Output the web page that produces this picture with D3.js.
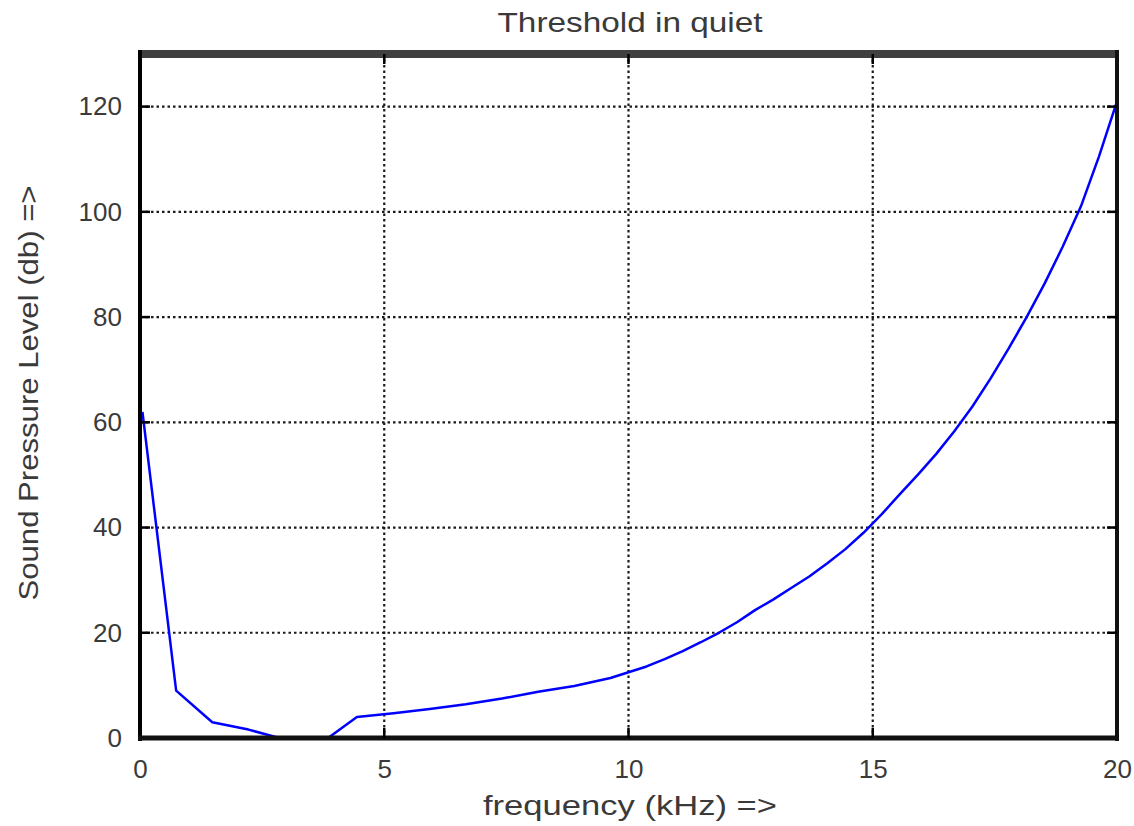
<!DOCTYPE html>
<html>
<head>
<meta charset="utf-8">
<script src="https://cdn.jsdelivr.net/npm/d3@7"></script>
<style>
  html, body { margin: 0; padding: 0; background: #fff; }
  svg { display: block; }
  text { font-family: "Liberation Sans", Arial, sans-serif; fill: #3a3a3a; }
</style>
</head>
<body>
<svg id="chart" width="1134" height="826"></svg>
<script>
// ---- data ----
const freqKHz = [0.05, 0.74, 1.48, 2.22, 2.85, 3.85, 4.44, 5.19, 5.93, 6.67, 7.41, 8.15, 8.89, 9.63,
                 10.37, 10.74, 11.11, 11.48, 11.85, 12.22, 12.59, 12.96, 13.33, 13.70, 14.07, 14.44, 14.81,
                 15.19, 15.56, 15.93, 16.30, 16.67, 17.04, 17.41, 17.78, 18.15, 18.52, 18.89, 19.26, 19.63, 20.0];
const splDb   = [62, 9, 3.0, 1.6, 0, 0, 4.0, 4.7, 5.5, 6.4, 7.5, 8.8, 9.9, 11.4,
                 13.6, 15.0, 16.5, 18.2, 20.0, 22.0, 24.3, 26.3, 28.5, 30.7, 33.2, 35.9, 39.0,
                 42.6, 46.4, 50.1, 54.0, 58.3, 63.0, 68.3, 74.0, 80.0, 86.4, 93.4, 101.0, 110.5, 121];
const xTicks = [0, 5, 10, 15, 20];
const yTicks = [0, 20, 40, 60, 80, 100, 120];
const titleText = "Threshold in quiet";
const xLabelText = "frequency (kHz) =>";
const yLabelText = "Sound Pressure Level (db) =>";

// ---- layout ----
const L = 140, R = 1117, T = 54, B = 738;
const svg = d3.select("#chart");

const x = d3.scaleLinear().domain([0, 20]).range([L, R]);
const y = d3.scaleLinear().domain([0, 130]).range([B, T]);

// grid
const grid = svg.append("g");
grid.selectAll("line.gx").data(xTicks.filter(d => d > 0 && d < 20)).join("line")
  .attr("x1", d => x(d)).attr("x2", d => x(d)).attr("y1", T).attr("y2", B)
  .attr("stroke", "#1a1a1a").attr("stroke-width", 2.2).attr("stroke-dasharray", "2.5,3");
grid.selectAll("line.gy").data(yTicks.filter(d => d > 0)).join("line")
  .attr("x1", L).attr("x2", R).attr("y1", d => y(d)).attr("y2", d => y(d))
  .attr("stroke", "#1a1a1a").attr("stroke-width", 2.2).attr("stroke-dasharray", "2.5,3");

// axes (labels outside)
const xAxis = d3.axisBottom(x).tickValues(xTicks).tickSize(0).tickPadding(22).tickFormat(d3.format("d"));
const yAxis = d3.axisLeft(y).tickValues(yTicks).tickSize(0).tickPadding(18).tickFormat(d3.format("d"));
const gx = svg.append("g").attr("transform", `translate(0,${B})`).call(xAxis);
const gy = svg.append("g").attr("transform", `translate(${L},0)`).call(yAxis);
[gx, gy].forEach(g => {
  g.select(".domain").remove();
  g.selectAll("text").attr("font-size", 26).attr("fill", "#505050")
    .attr("font-family", "Liberation Sans, Arial, sans-serif");
});
gx.selectAll("text").attr("dy", "0.71em");

// curve
const line = d3.line().x((d, i) => x(freqKHz[i])).y(d => y(d));
svg.append("path").datum(splDb)
  .attr("d", line).attr("fill", "none").attr("stroke", "#0000ff").attr("stroke-width", 2.5)
  .attr("stroke-linejoin", "round");

// box
svg.append("line").attr("x1", L - 2).attr("x2", R + 2).attr("y1", T).attr("y2", T)
  .attr("stroke", "#404040").attr("stroke-width", 8);
svg.append("line").attr("x1", L).attr("x2", L).attr("y1", T - 4).attr("y2", B + 3)
  .attr("stroke", "#000").attr("stroke-width", 4);
svg.append("line").attr("x1", R).attr("x2", R).attr("y1", T - 4).attr("y2", B + 3)
  .attr("stroke", "#111").attr("stroke-width", 4);
svg.append("line").attr("x1", L - 2).attr("x2", R + 2).attr("y1", B).attr("y2", B)
  .attr("stroke", "#111").attr("stroke-width", 5);

// small tick marks on top/bottom & left/right
const tk = svg.append("g").attr("stroke", "#000").attr("stroke-width", 2.5);
xTicks.filter(d => d > 0 && d < 20).forEach(d => {
  tk.append("line").attr("x1", x(d)).attr("x2", x(d)).attr("y1", T).attr("y2", T + 10);
  tk.append("line").attr("x1", x(d)).attr("x2", x(d)).attr("y1", B).attr("y2", B - 10);
});
yTicks.filter(d => d > 0).forEach(d => {
  tk.append("line").attr("x1", L).attr("x2", L + 10).attr("y1", y(d)).attr("y2", y(d));
  tk.append("line").attr("x1", R).attr("x2", R - 10).attr("y1", y(d)).attr("y2", y(d));
});

// titles
svg.append("text").attr("x", 630).attr("y", 32).attr("text-anchor", "middle")
  .attr("font-size", 28).attr("textLength", 265).attr("lengthAdjust", "spacingAndGlyphs")
  .attr("fill", "#404040").text(titleText);
svg.append("text").attr("x", 630).attr("y", 815).attr("text-anchor", "middle")
  .attr("font-size", 28).attr("textLength", 294).attr("lengthAdjust", "spacingAndGlyphs")
  .attr("fill", "#404040").text(xLabelText);
svg.append("text").attr("transform", "translate(38,393) rotate(-90)").attr("text-anchor", "middle")
  .attr("font-size", 28).attr("textLength", 415).attr("lengthAdjust", "spacingAndGlyphs")
  .attr("fill", "#404040").text(yLabelText);
</script>
</body>
</html>
